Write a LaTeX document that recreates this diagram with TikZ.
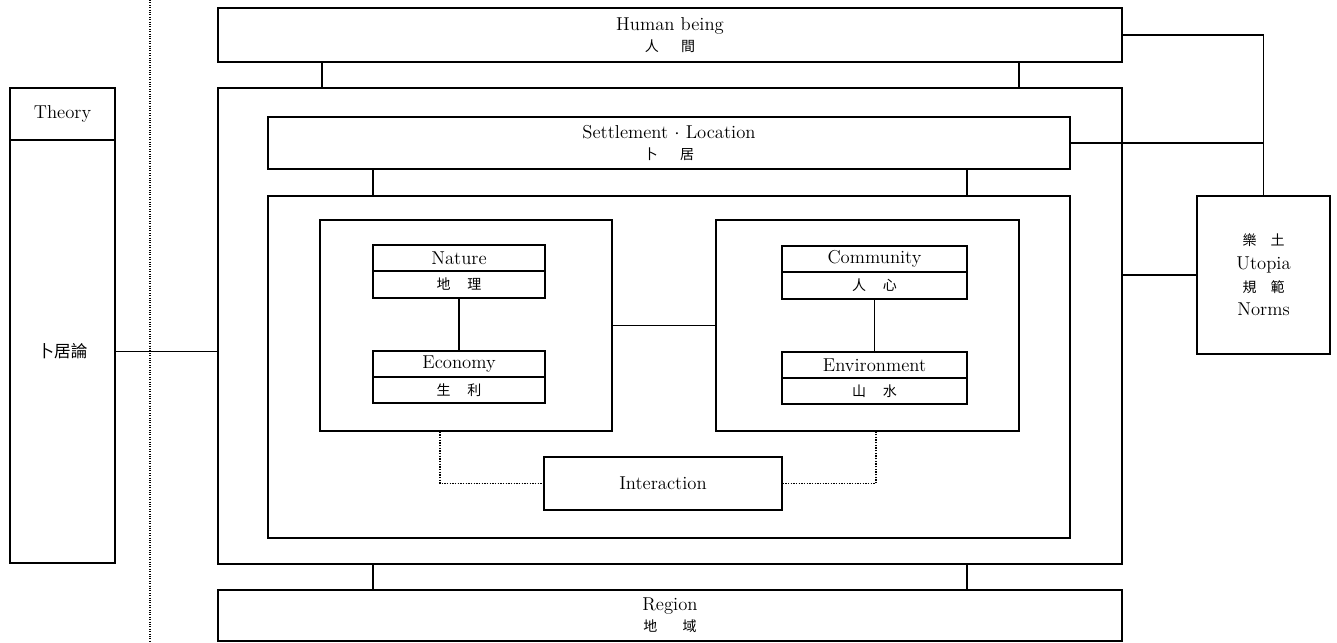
\documentclass[tikz,border=0pt]{standalone}
\usepackage{fontspec}
\newfontfamily\cjk{Noto Sans CJK TC}
\newcommand\zh[1]{{\cjk\fontsize{10.5}{16}\selectfont #1}}
\begin{document}
\begin{tikzpicture}[x=0.75pt,y=-0.75pt,
  box/.style={draw, line width=1.1pt, inner sep=0pt, align=center, font=\fontsize{14}{16}\selectfont},
  bb/.style n args={4}{minimum width={(#3-#1)*0.75pt}, minimum height={(#4-#2)*0.75pt}, at={(0.5*#1+0.5*#3,0.5*#2+0.5*#4)}},
  link/.style={line width=1.1pt},
  dots/.style={line width=1pt, densely dotted},
  sep/.style={line width=0.8pt, densely dotted}]
\useasboundingbox (0,0) rectangle (1337,642);
% separator
\coordinate (st) at (150,0);
\coordinate (sb) at (150,642);
\draw[sep] (st) -- (sb);
% theory column
\node[box, bb={10}{88}{115}{140}] (theoryT) {Theory};
\node[box, bb={10}{140}{115}{563}] (theoryB) {{\cjk\fontsize{12.5}{16}\selectfont 卜居論}};
% main boxes
\node[box, bb={218}{8}{1122}{62}] (human) {Human being\\\zh{人\hspace{1.6em}間}};
\node[box, bb={218}{88}{1122}{564}] (outer) {};
\node[box, bb={268}{117}{1070}{169}] (settle) {Settlement $\cdot$ Location\\\zh{卜\hspace{1.6em}居}};
\node[box, bb={268}{196}{1070}{538}] (inner) {};
\node[box, bb={218}{590}{1122}{641}] (region) {Region\\\zh{地\hspace{1.8em}域}};
% groups
\node[box, bb={320}{220}{612}{431}] (natG) {};
\node[box, bb={716}{220}{1019}{431}] (comG) {};
\node[box, bb={373}{245}{545}{271}] (natT) {Nature};
\node[box, bb={373}{271}{545}{298}] (natB) {\zh{地\hspace{1.2em}理}};
\node[box, bb={373}{351}{545}{377}] (ecoT) {Economy};
\node[box, bb={373}{377}{545}{403}] (ecoB) {\zh{生\hspace{1.2em}利}};
\node[box, bb={782}{246}{967}{272}] (comT) {Community};
\node[box, bb={782}{272}{967}{299}] (comB) {\zh{人\hspace{1.2em}心}};
\node[box, bb={782}{352}{967}{378}] (envT) {Environment};
\node[box, bb={782}{378}{967}{404}] (envB) {\zh{山\hspace{1.2em}水}};
\node[box, bb={544}{457}{782}{510}] (inter) {Interaction};
% utopia
\node[box, bb={1197}{196}{1330}{354}, font=\fontsize{14}{17.5}\selectfont] (utopia)
  {{\cjk\fontsize{10.5}{17.5}\selectfont 樂\hspace{1em}土}\\Utopia\\{\cjk\fontsize{10.5}{17.5}\selectfont 規\hspace{1em}範}\\Norms};
% x positions for vertical links
\coordinate (xa) at (322,0);
\coordinate (xb) at (1019,0);
\coordinate (xc) at (373,0);
\coordinate (xd) at (967,0);
\coordinate (xe) at (440,0);
\coordinate (xf) at (876,0);
% links
\draw[link] (human.south -| xa) -- (outer.north -| xa);
\draw[link] (human.south -| xb) -- (outer.north -| xb);
\draw[link] (settle.south -| xc) -- (inner.north -| xc);
\draw[link] (settle.south -| xd) -- (inner.north -| xd);
\draw[link] (outer.south -| xc) -- (region.north -| xc);
\draw[link] (outer.south -| xd) -- (region.north -| xd);
\draw[link] (natB.south) -- (ecoT.north);
\draw[link] (comB.south) -- (envT.north);
\draw[link] (natG.east) -- (comG.west);
\draw[dots] (natG.south -| xe) |- (inter.west);
\draw[dots] (inter.east) -| (comG.south -| xf);
\draw[link] (theoryB.east) -- (outer.west |- theoryB.east);
\draw[link] (human.east) -| (utopia.north);
\draw[link] (settle.east) -- (settle.east -| utopia.north);
\draw[link] (outer.east |- utopia.west) -- (utopia.west);
\end{tikzpicture}
\end{document}
